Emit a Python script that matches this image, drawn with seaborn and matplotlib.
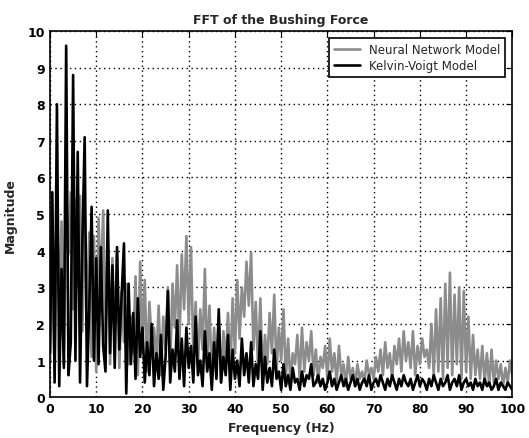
import numpy as np
import pandas as pd
import matplotlib
matplotlib.use("Agg")
import matplotlib.pyplot as plt
import seaborn as sns

# Frequency axis (Hz), 0.5 Hz resolution
freq = [i * 0.5 for i in range(201)]

# FFT magnitude of the bushing force, neural network model (rows of 10 Hz)
nn_mag = [
    1.0, 3.5, 0.8, 5.0, 2.6, 4.8, 0.9, 5.3, 3.9, 5.6, 2.4, 5.4, 3.0, 5.5, 1.8, 5.0, 2.2, 4.5, 1.1, 4.4,
    0.7, 4.9, 2.9, 5.1, 1.6, 4.3, 0.9, 3.8, 1.7, 4.0, 0.8, 2.9, 1.5, 3.1, 0.9, 2.2, 1.2, 3.3, 0.6, 3.7,
    1.4, 3.2, 0.7, 2.6, 1.5, 1.9, 0.9, 2.5, 0.6, 2.2, 1.3, 3.0, 0.8, 3.1, 1.9, 3.6, 1.4, 3.9, 2.4, 4.4,
    2.0, 4.1, 1.1, 2.6, 0.9, 2.4, 1.3, 3.5, 1.0, 2.5, 0.5, 1.9, 0.8, 2.1, 0.4, 1.8, 0.9, 2.3, 0.6, 2.7,
    1.2, 3.2, 1.6, 3.0, 2.2, 3.7, 2.5, 3.95, 1.3, 2.6, 0.8, 2.7, 0.6, 1.7, 0.9, 2.3, 1.2, 2.8, 0.7, 1.9,
    1.0, 2.4, 0.5, 1.6, 0.4, 1.2, 0.9, 1.7, 0.5, 1.9, 0.7, 1.5, 1.0, 1.8, 0.6, 1.3, 0.4, 1.1, 0.8, 1.4,
    0.5, 1.6, 0.7, 1.2, 0.4, 1.4, 0.6, 0.9, 0.3, 1.1, 0.5, 0.8, 0.3, 0.9, 0.5, 0.7, 0.4, 1.0, 0.6, 0.8,
    0.5, 1.1, 0.7, 1.3, 0.6, 1.5, 0.8, 1.2, 0.5, 1.4, 0.9, 1.6, 0.7, 1.8, 1.0, 1.5, 0.8, 1.8, 0.6, 1.4,
    0.9, 1.6, 1.1, 1.3, 0.8, 2.0, 0.6, 2.4, 0.7, 2.7, 0.5, 3.1, 0.8, 3.4, 0.6, 2.8, 0.9, 3.0, 0.5, 2.9,
    0.7, 2.2, 0.5, 1.7, 0.6, 1.3, 0.5, 1.4, 0.4, 1.2, 0.3, 1.3, 0.4, 1.0, 0.5, 0.9, 0.3, 0.8, 0.4, 1.0,
    0.6,
]

# FFT magnitude of the bushing force, Kelvin-Voigt model (rows of 10 Hz)
kv_mag = [
    1.2, 5.6, 0.4, 8.0, 0.3, 3.5, 0.8, 9.6, 0.6, 1.5, 8.8, 1.0, 6.7, 0.4, 4.2, 7.1, 0.3, 2.5, 5.2, 1.0,
    3.8, 0.9, 4.1, 1.4, 0.7, 5.1, 1.2, 3.6, 0.8, 4.1, 1.3, 2.8, 4.2, 0.1, 3.1, 0.9, 2.3, 0.5, 2.7, 1.1,
    1.9, 0.4, 1.5, 0.6, 2.0, 0.3, 1.2, 0.5, 1.7, 0.2, 1.1, 2.9, 0.4, 1.3, 0.7, 2.1, 0.5, 1.6, 0.3, 1.9,
    0.8, 1.4, 0.4, 2.2, 0.6, 1.0, 0.3, 1.8, 0.7, 1.2, 0.2, 1.5, 0.5, 2.4, 0.4, 1.1, 0.6, 1.7, 0.2, 1.3,
    0.5, 1.0, 0.3, 1.6, 0.6, 1.2, 0.4, 1.5, 0.3, 0.9, 0.5, 1.8, 0.2, 1.1, 0.4, 0.8, 0.3, 1.3, 0.5, 0.7,
    0.2, 0.9, 0.3, 0.6, 0.2, 0.8, 0.4, 0.5, 0.2, 0.7, 0.3, 0.6, 0.5, 0.9, 0.3, 0.4, 0.6, 0.3, 0.5, 0.2,
    0.4, 0.7, 0.3, 0.5, 0.2, 0.4, 0.6, 0.3, 0.5, 0.2, 0.4, 0.6, 0.3, 0.5, 0.2, 0.4, 0.5, 0.3, 0.6, 0.2,
    0.4, 0.5, 0.3, 0.6, 0.4, 0.2, 0.5, 0.3, 0.6, 0.4, 0.2, 0.5, 0.3, 0.6, 0.4, 0.3, 0.5, 0.2, 0.4, 0.6,
    0.3, 0.5, 0.4, 0.2, 0.5, 0.3, 0.6, 0.4, 0.2, 0.5, 0.3, 0.4, 0.6, 0.2, 0.4, 0.5, 0.3, 0.6, 0.2, 0.4,
    0.5, 0.3, 0.4, 0.2, 0.5, 0.3, 0.4, 0.2, 0.5, 0.3, 0.4, 0.2, 0.3, 0.5, 0.2, 0.4, 0.3, 0.2, 0.4, 0.3,
    0.2,
]

series_names = ["Neural Network Model", "Kelvin-Voigt Model"]
x_ticks = list(range(0, 101, 10))
y_ticks = list(range(0, 11))

df = pd.concat([
    pd.DataFrame({"Frequency": freq, "Magnitude": nn_mag, "Model": series_names[0]}),
    pd.DataFrame({"Frequency": freq, "Magnitude": kv_mag, "Model": series_names[1]}),
], ignore_index=True)

sns.set_style("white")
plt.rcParams["font.family"] = ["DejaVu Sans"]

fig = plt.figure(figsize=(5.29, 4.39), dpi=100)
ax = fig.add_axes([0.0945, 0.093, 0.874, 0.834])

sns.lineplot(
    data=df, x="Frequency", y="Magnitude", hue="Model",
    palette={series_names[0]: "#8c8c8c", series_names[1]: "#000000"},
    linewidth=1.9, ax=ax, legend=True, estimator=None, sort=False,
)

ax.set_xlim(0, 100)
ax.set_ylim(0, 10)
ax.set_xticks(x_ticks)
ax.set_yticks(y_ticks)
ax.tick_params(direction="in", length=4, labelsize=9, top=True, right=True,
               colors="black")
for lab in ax.get_xticklabels() + ax.get_yticklabels():
    lab.set_fontweight("bold")
ax.grid(True, linestyle=(0, (1, 2.5)), color="black", linewidth=1.0)
ax.set_axisbelow(True)
for sp in ax.spines.values():
    sp.set_color("black")
    sp.set_linewidth(1.2)

ax.set_title("FFT of the Bushing Force", fontsize=9, fontweight="bold", pad=6)
ax.set_xlabel("Frequency (Hz)", fontsize=9, fontweight="bold", labelpad=4)
ax.set_ylabel("Magnitude", fontsize=9, fontweight="bold", labelpad=8)

leg = ax.legend(loc="upper right", fontsize=8.5, frameon=True, fancybox=False,
                edgecolor="black", framealpha=1, borderaxespad=0.6,
                handlelength=2.2, borderpad=0.4, labelspacing=0.3)
leg.get_frame().set_linewidth(1.2)

fig.savefig("out.png", dpi=100)
